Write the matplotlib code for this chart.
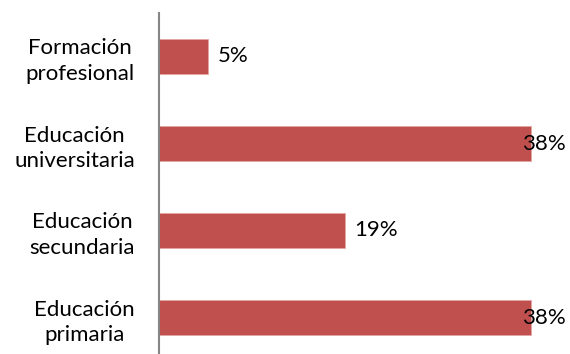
import numpy as np
import matplotlib
matplotlib.use("Agg")
import matplotlib.pyplot as plt

categorias = ["Educación\nprimaria", "Educación\nsecundaria",
              "Educación\nuniversitaria", "Formación\nprofesional"]
porcentajes = [38, 19, 38, 5]
etiquetas = ["38%", "19%", "38%", "5%"]

plt.rcParams["font.family"] = ["Lato", "DejaVu Sans"]

fig = plt.figure(figsize=(5.7, 3.54), dpi=100)
# area del grafico en pixeles: x 158.5 -> 560, y 13 -> 361 (se sale por abajo)
ax = fig.add_axes([158.5/570, 1 - 361/354, (560 - 158.5)/570, (361 - 13)/354])

y = np.arange(len(categorias))
ax.barh(y, porcentajes, height=0.4, color="#C0504D", edgecolor="#E3A5A3", linewidth=0.6)

xmax = (560 - 158.5) / 9.8
ax.set_xlim(0, xmax)
ax.set_ylim(-0.5, 3.5)

for yi, v, txt in zip(y, porcentajes, etiquetas):
    if v + 4 > xmax:
        # no cabe fuera de la barra: se mete un poco dentro
        ax.annotate(txt, (v, yi), xytext=(-9, 0), textcoords="offset pixels",
                    ha="left", va="center", fontsize=16, color="black")
    else:
        ax.annotate(txt, (v, yi), xytext=(10, 0), textcoords="offset pixels",
                    ha="left", va="center", fontsize=16, color="black")

ax.set_yticks(y)
ax.set_yticklabels(categorias, fontsize=16, multialignment="center", linespacing=1.35)
ax.tick_params(axis="y", length=0, pad=17)
ax.set_xticks([])

for lado in ["top", "right", "bottom"]:
    ax.spines[lado].set_visible(False)
ax.spines["left"].set_color("#868686")
ax.spines["left"].set_linewidth(1.5)

fig.savefig("out.png", dpi=100)
